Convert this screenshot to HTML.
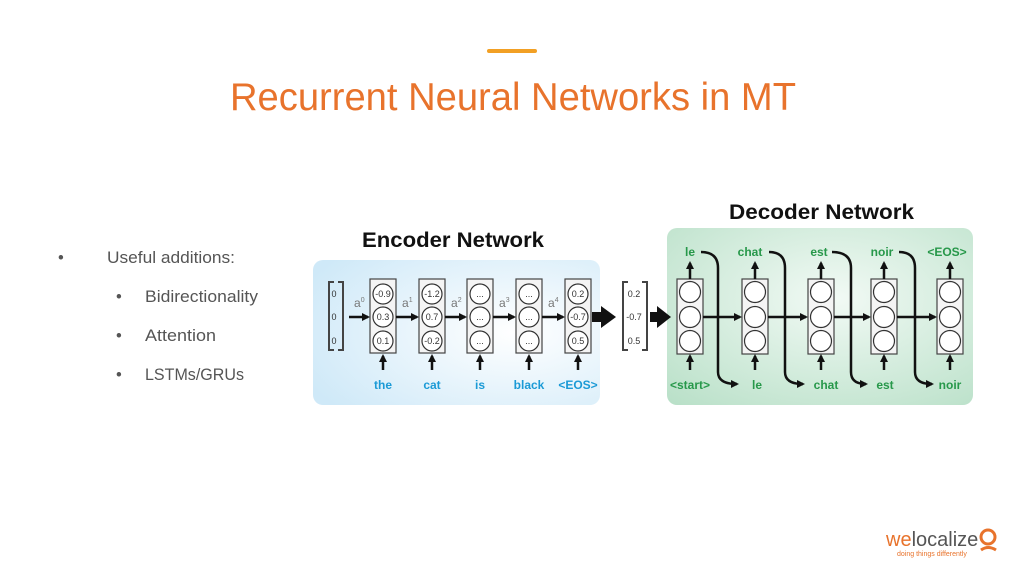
<!DOCTYPE html>
<html><head><meta charset="utf-8"><style>
body{margin:0;background:#fff;}
svg{display:block;font-family:"Liberation Sans",sans-serif;}
</style></head><body>
<svg width="1024" height="576" viewBox="0 0 1024 576">
<defs>
<radialGradient id="gb" cx="0.7" cy="0.5" r="0.8"><stop offset="0" stop-color="#ffffff"/><stop offset="1" stop-color="#cfe9f8"/></radialGradient>
<radialGradient id="gg" cx="0.55" cy="0.4" r="0.8"><stop offset="0" stop-color="#f2faf5"/><stop offset="1" stop-color="#b9e0c8"/></radialGradient>
<marker id="ah" markerWidth="8" markerHeight="8" refX="6" refY="4" orient="auto" markerUnits="userSpaceOnUse"><path d="M0,0 L8,4 L0,8 z" fill="#111"/></marker>
</defs>
<rect x="487" y="49" width="50" height="4" rx="2" fill="#f2a024"/>
<text x="513" y="110" text-anchor="middle" font-size="38.5" fill="#e8732c" textLength="566" lengthAdjust="spacingAndGlyphs">Recurrent Neural Networks in MT</text>
<g fill="#555" font-size="16.5">
<text x="58" y="263">•</text><text x="107" y="263" textLength="128" lengthAdjust="spacingAndGlyphs">Useful additions:</text>
<text x="116" y="302">•</text><text x="145" y="302" textLength="113" lengthAdjust="spacingAndGlyphs">Bidirectionality</text>
<text x="116" y="341">•</text><text x="145" y="341" textLength="71" lengthAdjust="spacingAndGlyphs">Attention</text>
<text x="116" y="380">•</text><text x="145" y="380" textLength="99" lengthAdjust="spacingAndGlyphs">LSTMs/GRUs</text>
</g>
<text x="362" y="247" font-size="21.5" font-weight="bold" fill="#111" textLength="182" lengthAdjust="spacingAndGlyphs">Encoder Network</text>
<text x="729" y="219" font-size="21.5" font-weight="bold" fill="#111" textLength="185" lengthAdjust="spacingAndGlyphs">Decoder Network</text>
<rect x="313" y="260" width="287" height="145" rx="10" fill="url(#gb)"/>
<rect x="667" y="228" width="306" height="177" rx="10" fill="url(#gg)"/>
<g stroke="#444" stroke-width="2" fill="none">
<path d="M334,282 h-5 v68 h5"/><path d="M338,282 h5 v68 h-5"/>
<path d="M628,282 h-5 v68 h5"/><path d="M642,282 h5 v68 h-5"/>
</g>
<g font-size="9" fill="#333" text-anchor="middle">
<text x="334" y="297">0</text><text x="334" y="320">0</text><text x="334" y="344">0</text>
<text x="634" y="297">0.2</text><text x="634" y="320">-0.7</text><text x="634" y="344">0.5</text>
</g>
<g font-size="9" text-anchor="middle" fill="#333">
<g stroke="#444" stroke-width="1.2" fill="#f4f4f4">
<rect x="370" y="279" width="26" height="74"/><rect x="419" y="279" width="26" height="74"/><rect x="467" y="279" width="26" height="74"/><rect x="516" y="279" width="26" height="74"/><rect x="565" y="279" width="26" height="74"/>
</g>
<g stroke="#333" stroke-width="1.2" fill="#fff">
<circle cx="383" cy="294" r="10"/><circle cx="383" cy="317" r="10"/><circle cx="383" cy="341" r="10"/>
<circle cx="432" cy="294" r="10"/><circle cx="432" cy="317" r="10"/><circle cx="432" cy="341" r="10"/>
<circle cx="480" cy="294" r="10"/><circle cx="480" cy="317" r="10"/><circle cx="480" cy="341" r="10"/>
<circle cx="529" cy="294" r="10"/><circle cx="529" cy="317" r="10"/><circle cx="529" cy="341" r="10"/>
<circle cx="578" cy="294" r="10"/><circle cx="578" cy="317" r="10"/><circle cx="578" cy="341" r="10"/>
</g>
<text x="383" y="297">-0.9</text><text x="383" y="320">0.3</text><text x="383" y="344">0.1</text>
<text x="432" y="297">-1.2</text><text x="432" y="320">0.7</text><text x="432" y="344">-0.2</text>
<text x="480" y="297">...</text><text x="480" y="320">...</text><text x="480" y="344">...</text>
<text x="529" y="297">...</text><text x="529" y="320">...</text><text x="529" y="344">...</text>
<text x="578" y="297">0.2</text><text x="578" y="320">-0.7</text><text x="578" y="344">0.5</text>
</g>
<g font-size="12" fill="#777">
<text x="354" y="307">a<tspan font-size="7" dy="-5">0</tspan></text>
<text x="402" y="307">a<tspan font-size="7" dy="-5">1</tspan></text>
<text x="451" y="307">a<tspan font-size="7" dy="-5">2</tspan></text>
<text x="499" y="307">a<tspan font-size="7" dy="-5">3</tspan></text>
<text x="548" y="307">a<tspan font-size="7" dy="-5">4</tspan></text>
</g>
<g stroke="#111" stroke-width="2.5" marker-end="url(#ah)">
<line x1="349" y1="317" x2="368" y2="317"/><line x1="396" y1="317" x2="417" y2="317"/><line x1="445" y1="317" x2="465" y2="317"/><line x1="493" y1="317" x2="514" y2="317"/><line x1="542" y1="317" x2="563" y2="317"/>
<line x1="383" y1="370" x2="383" y2="356"/><line x1="432" y1="370" x2="432" y2="356"/><line x1="480" y1="370" x2="480" y2="356"/><line x1="529" y1="370" x2="529" y2="356"/><line x1="578" y1="370" x2="578" y2="356"/>
</g>
<rect x="592" y="312" width="10" height="10" fill="#111"/><path d="M601,306 L616,317 L601,328 z" fill="#111"/>
<rect x="650" y="312" width="8" height="10" fill="#111"/><path d="M657,306 L671,317 L657,328 z" fill="#111"/>
<g font-size="12" font-weight="bold" fill="#1b9ad6" text-anchor="middle">
<text x="383" y="389">the</text><text x="432" y="389">cat</text><text x="480" y="389">is</text><text x="529" y="389">black</text><text x="578" y="389">&lt;EOS&gt;</text>
</g>
<g stroke="#444" stroke-width="1.2" fill="#f4f4f4">
<rect x="677" y="279" width="26" height="75"/><rect x="742" y="279" width="26" height="75"/><rect x="808" y="279" width="26" height="75"/><rect x="871" y="279" width="26" height="75"/><rect x="937" y="279" width="26" height="75"/>
</g>
<g stroke="#333" stroke-width="1.2" fill="#fff">
<circle cx="690" cy="292" r="10.5"/><circle cx="690" cy="317" r="10.5"/><circle cx="690" cy="341" r="10.5"/>
<circle cx="755" cy="292" r="10.5"/><circle cx="755" cy="317" r="10.5"/><circle cx="755" cy="341" r="10.5"/>
<circle cx="821" cy="292" r="10.5"/><circle cx="821" cy="317" r="10.5"/><circle cx="821" cy="341" r="10.5"/>
<circle cx="884" cy="292" r="10.5"/><circle cx="884" cy="317" r="10.5"/><circle cx="884" cy="341" r="10.5"/>
<circle cx="950" cy="292" r="10.5"/><circle cx="950" cy="317" r="10.5"/><circle cx="950" cy="341" r="10.5"/>
</g>
<g stroke="#111" stroke-width="2.5" fill="none" marker-end="url(#ah)">
<line x1="703" y1="317" x2="740" y2="317"/><line x1="768" y1="317" x2="806" y2="317"/><line x1="834" y1="317" x2="869" y2="317"/><line x1="897" y1="317" x2="935" y2="317"/>
<line x1="690" y1="279" x2="690" y2="263"/><line x1="755" y1="279" x2="755" y2="263"/><line x1="821" y1="279" x2="821" y2="263"/><line x1="884" y1="279" x2="884" y2="263"/><line x1="950" y1="279" x2="950" y2="263"/>
<line x1="690" y1="370" x2="690" y2="356"/><line x1="755" y1="370" x2="755" y2="356"/><line x1="821" y1="370" x2="821" y2="356"/><line x1="884" y1="370" x2="884" y2="356"/><line x1="950" y1="370" x2="950" y2="356"/>
<path d="M701,252 Q718,252 718,268 V372 Q718,384 737,384"/>
<path d="M769,252 Q785,252 785,268 V372 Q785,384 803,384"/>
<path d="M832,252 Q851,252 851,268 V372 Q851,384 866,384"/>
<path d="M899,252 Q915,252 915,268 V372 Q915,384 932,384"/>
</g>
<g font-size="12" font-weight="bold" fill="#27984a" text-anchor="middle">
<text x="690" y="256">le</text><text x="750" y="256">chat</text><text x="819" y="256">est</text><text x="882" y="256">noir</text><text x="947" y="256">&lt;EOS&gt;</text>
<text x="690" y="389">&lt;start&gt;</text><text x="757" y="389">le</text><text x="826" y="389">chat</text><text x="885" y="389">est</text><text x="950" y="389">noir</text>
</g>
<text x="886" y="546" font-size="20" fill="#555"><tspan fill="#e8732c">we</tspan>localize</text>
<circle cx="988" cy="537" r="7" fill="none" stroke="#e8732c" stroke-width="3"/>
<path d="M981,550 Q988,545 996,550" stroke="#e8732c" stroke-width="3" fill="none"/>
<text x="897" y="556" font-size="7" fill="#e8732c">doing things differently</text>
</svg>
</body></html>
